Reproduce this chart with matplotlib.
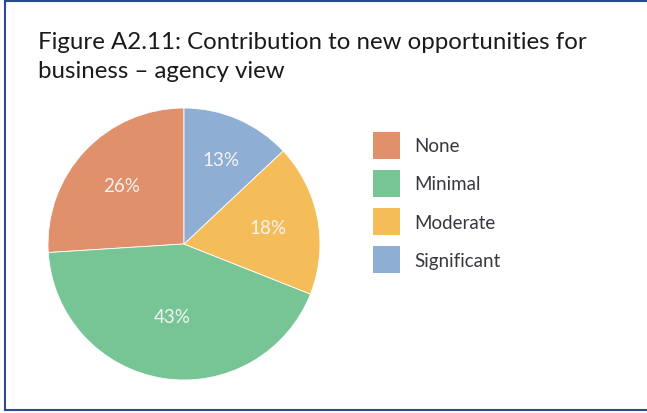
import matplotlib
matplotlib.use("Agg")
import matplotlib.pyplot as plt
from matplotlib.patches import Patch
from matplotlib.lines import Line2D

categories = ["None", "Minimal", "Moderate", "Significant"]
shares = [26, 43, 18, 13]
colors = ["#E0906A", "#77C594", "#F5BC5A", "#8FAED4"]
title = "Figure A2.11: Contribution to new opportunities for\nbusiness \u2013 agency view"

plt.rcParams["font.family"] = ["Lato", "DejaVu Sans"]

fig = plt.figure(figsize=(6.47, 4.14), dpi=100)
W, H = 647, 414

# frame: left, top and bottom rules
frame_color = "#2B4C8C"
for xs, ys in [((4.5 / W, 4.5 / W), (1 - 1.5 / H, 1 - 410.5 / H)),
               ((4.5 / W, 1.05), (1 - 1.5 / H, 1 - 1.5 / H)),
               ((4.5 / W, 1.05), (1 - 410.5 / H, 1 - 410.5 / H))]:
    fig.add_artist(Line2D(xs, ys, transform=fig.transFigure,
                          color=frame_color, lw=1.5))

fig.text(38 / W, 1 - 32 / H, title, ha="left", va="top",
         fontsize=17.3, color="#1a1a1a", linespacing=1.5)

cx, cy, r = 184, 245, 136
ax = fig.add_axes([(cx - r) / W, 1 - (cy + r) / H, 2 * r / W, 2 * r / H])
base_dist = 0.62
wedges, texts, autotexts = ax.pie(
    shares, colors=colors, startangle=90, counterclock=True,
    autopct=lambda p: f"{p:.0f}%", pctdistance=base_dist,
    wedgeprops=dict(linewidth=0.6, edgecolor="white"),
    textprops=dict(color="#F4F4F4", fontsize=13.5))
# pull the large-slice label inward and push the small one outward
label_dist = [0.63, 0.54, 0.63, 0.68]
for t, d in zip(autotexts, label_dist):
    x, y = t.get_position()
    t.set_position((x * d / base_dist, y * d / base_dist))
ax.set_xlim(-1, 1)
ax.set_ylim(-1, 1)
ax.set_aspect("equal")

handles = [Patch(facecolor=c, edgecolor="none") for c in colors]
fig.legend(handles, categories, loc="upper left",
           bbox_to_anchor=(373 / W, 1 - 133 / H), frameon=False,
           borderpad=0, borderaxespad=0,
           fontsize=13.5, labelcolor="#3a3640", handlelength=1.44,
           handleheight=1.8, handletextpad=0.75, labelspacing=0.62)

fig.savefig("out.png", dpi=100, facecolor="white")
